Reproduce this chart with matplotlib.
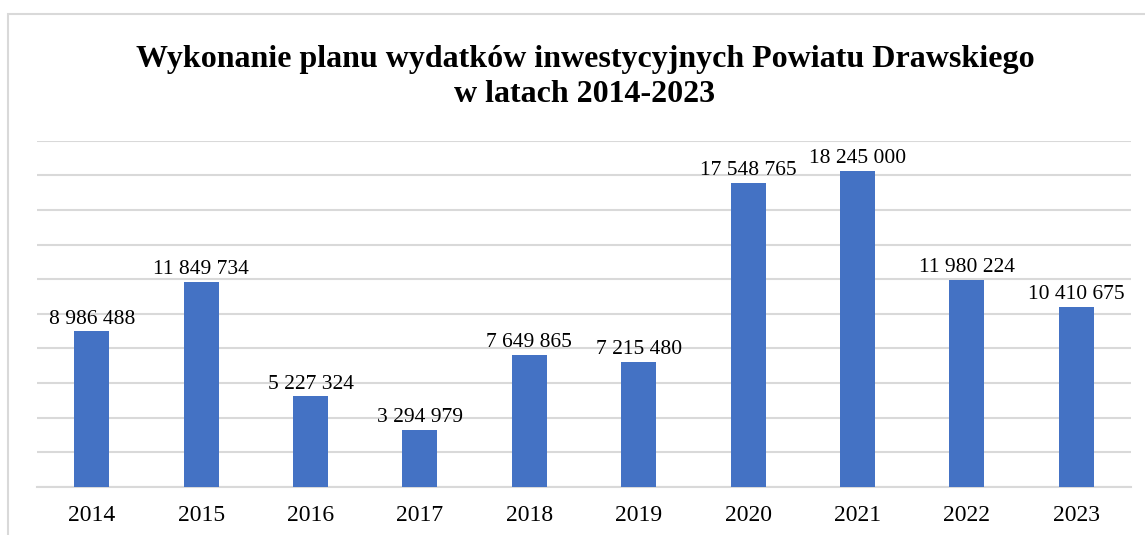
import matplotlib
matplotlib.use('Agg')
import matplotlib.pyplot as plt
from matplotlib.patches import Rectangle

years = ['2014', '2015', '2016', '2017', '2018', '2019', '2020', '2021', '2022', '2023']
values = [8986488, 11849734, 5227324, 3294979, 7649865, 7215480, 17548765, 18245000, 11980224, 10410675]

BLUE = '#4472C4'
GRID = '#d9d9d9'
plt.rcParams['font.family'] = ['Liberation Serif', 'DejaVu Serif']

fig = plt.figure(figsize=(11.45, 5.35), dpi=100)
# chart frame (cut off at right and bottom like the reference)
fig.patches.append(Rectangle((8/1145, -0.1), 1.2, 1 - 13.5/535 + 0.1, transform=fig.transFigure,
                             fill=False, edgecolor=GRID, lw=1.5, zorder=0))
ax = fig.add_axes([37/1145, 1 - 487/535, (1131 - 37)/1145, (487 - 140.7)/535])

x = range(len(years))
ax.bar(x, values, width=0.32, color=BLUE, zorder=3)
for xi, v in zip(x, values):
    lab = f'{v:,}'.replace(',', ' ')
    ax.annotate(lab, (xi, v), xytext=(0, 2), textcoords='offset points',
                ha='center', va='bottom', fontsize=15.5)

ax.set_xlim(-0.5, len(years) - 0.5)
ax.set_ylim(0, 20_000_000)
ax.set_yticks(range(0, 20_000_001, 2_000_000))
ax.set_yticklabels([])
ax.tick_params(axis='y', length=0)
ax.tick_params(axis='x', length=0, labelsize=17, pad=13)
ax.set_xticks(list(x))
ax.set_xticklabels(years)
ax.grid(axis='y', color=GRID, lw=1.5, zorder=0)
for s in ['top', 'right', 'left']:
    ax.spines[s].set_visible(False)
ax.spines['bottom'].set_color(GRID)
ax.spines['bottom'].set_linewidth(1.5)

fig.text(585/1145, 1 - 60/535, 'Wykonanie planu wydatków inwestycyjnych Powiatu Drawskiego',
         ha='center', va='center', fontsize=23, fontweight='bold')
fig.text(585/1145, 1 - 95/535, 'w latach 2014-2023',
         ha='center', va='center', fontsize=23, fontweight='bold')

fig.savefig('out.png', dpi=100)
